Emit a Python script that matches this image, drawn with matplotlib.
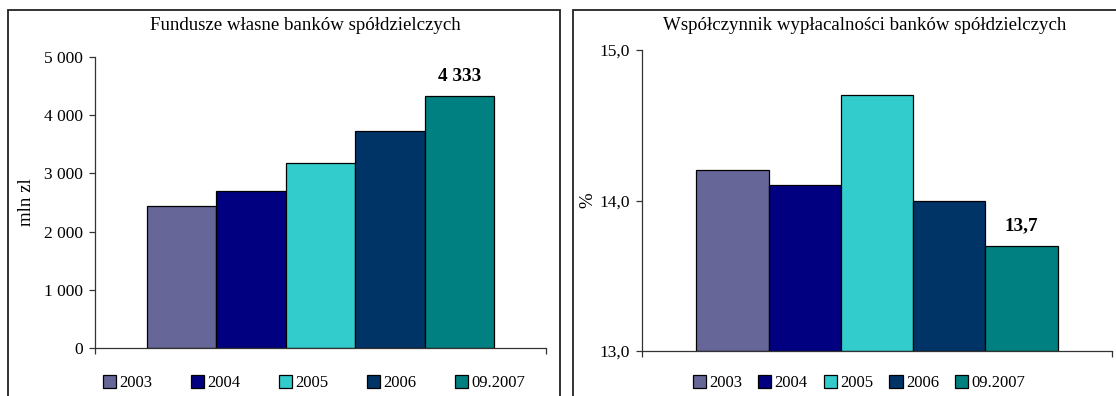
import matplotlib
matplotlib.use("Agg")
import matplotlib.pyplot as plt
from matplotlib.patches import Rectangle, Patch
from matplotlib.ticker import FuncFormatter

plt.rcParams["font.family"] = ["Liberation Serif", "DejaVu Serif"]

periods = ["2003", "2004", "2005", "2006", "09.2007"]
colors = ["#666699", "#000080", "#33CCCC", "#003366", "#008080"]

own_funds = [2440, 2700, 3180, 3730, 4333]          # mln zl
solvency_ratio = [14.2, 14.1, 14.7, 14.0, 13.7]     # %

W, H = 1116, 396
fig = plt.figure(figsize=(W / 100, H / 100), dpi=100)


def fx(px):
    return px / W


def fy(py):
    return 1 - py / H


# panel frames (open at the bottom / right like a cropped page)
for x0, x1 in [(7.5, 560), (573, 1200)]:
    fig.add_artist(Rectangle((fx(x0), -0.2), fx(x1) - fx(x0), fy(10.5) + 0.2,
                             transform=fig.transFigure, fill=False,
                             edgecolor="#222222", linewidth=1.3, clip_on=False))


def draw_panel(ax, values, ylim, fmt, ylabel, label_x, label_text):
    x = range(len(values))
    ax.bar(x, [v - ylim[0] for v in values], bottom=ylim[0], width=1.0,
           color=colors, edgecolor="black", linewidth=0.9)
    ax.set_xlim(-1.25, 5.25)
    ax.set_ylim(*ylim)
    for side in ("top", "right"):
        ax.spines[side].set_visible(False)
    for side in ("left", "bottom"):
        ax.spines[side].set_color("#333333")
        ax.spines[side].set_linewidth(0.9)
    ax.set_xticks([-1.25, 5.25])
    ax.set_xticklabels([])
    ax.tick_params(axis="both", direction="out", length=4.5, width=0.9,
                   color="#333333", labelsize=12.5, pad=4)
    ax.yaxis.set_major_formatter(FuncFormatter(fmt))
    ax.set_ylabel(ylabel, fontsize=13.5)
    ax.yaxis.set_label_coords(label_x, 0.5)
    ax.annotate(label_text, (4, values[-1]), xytext=(0, 14),
                textcoords="offset points", ha="center", va="center",
                fontsize=13.8, fontweight="bold")


ax1 = fig.add_axes([fx(95), fy(348), fx(546) - fx(95), fy(57) - fy(348)])
draw_panel(ax1, own_funds, (0, 5000),
           lambda v, p: f"{v:,.0f}".replace(",", " "),
           "mln zl", -0.133, f"{own_funds[-1]:,}".replace(",", " "))
ax1.set_yticks(range(0, 5001, 1000))

ax2 = fig.add_axes([fx(642), fy(351), fx(1112) - fx(642), fy(50) - fy(351)])
draw_panel(ax2, solvency_ratio, (13.0, 15.0),
           lambda v, p: f"{v:.1f}".replace(".", ","),
           "%", -0.098, f"{solvency_ratio[-1]:.1f}".replace(".", ","))
ax2.set_yticks([13.0, 14.0, 15.0])

fig.text(fx(305), fy(25), "Fundusze własne banków spółdzielczych",
         ha="center", va="center", fontsize=13.6)
fig.text(fx(865), fy(25), "Współczynnik wypłacalności banków spółdzielczych",
         ha="center", va="center", fontsize=13.6)

handles = [Patch(facecolor=c, edgecolor="black", linewidth=0.9) for c in colors]
for ax, cx, spacing in [(ax1, 314, 2.3), (ax2, 859, 0.95)]:
    ax.legend(handles, periods, ncol=5, loc="center",
              bbox_to_anchor=(fx(cx), fy(383)), bbox_transform=fig.transFigure,
              frameon=False, fontsize=12, handlelength=0.8, handleheight=0.8,
              handletextpad=0.2, columnspacing=spacing, borderpad=0)

fig.savefig("out.png", dpi=100)
